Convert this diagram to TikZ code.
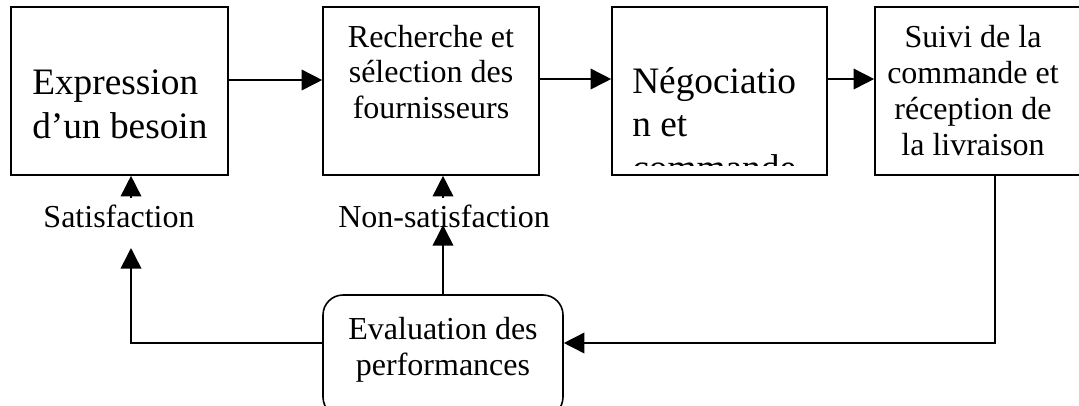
\documentclass[tikz,border=0pt]{standalone}
\usepackage{fontspec}
\setmainfont{Liberation Serif}
\usetikzlibrary{arrows.meta, positioning}

\begin{document}
\begin{tikzpicture}[
  x=0.75pt, y=-0.75pt,
  every node/.style={inner sep=0pt},
  box/.style={rectangle, draw, line width=1.2pt, minimum height=126pt},
  big/.style={font=\fontsize{28}{32.4}\selectfont, align=left, anchor=base west},
  small/.style={font=\fontsize{24}{26.6}\selectfont, align=center, anchor=base},
  lbl/.style={font=\fontsize{24}{27}\selectfont, inner sep=5pt, anchor=base},
  eval/.style={rectangle, draw, line width=1.2pt, rounded corners=15pt, minimum width=180pt, minimum height=91.5pt},
  arr/.style={-{Triangle[length=15.5pt, width=15.5pt]}, line width=1.2pt},
]
\useasboundingbox (0,0) rectangle (1079,405);

% Boxes
\node[box, minimum width=162.75pt] (need) at (119.5,91) {};
\node[box, minimum width=162pt] (search) at (431,91) {};
\node[box, minimum width=161.25pt] (nego) at (719.5,91) {};
\node[box, minimum width=156pt] (follow) at (979,91) {};
\node[eval] (evalbox) at (443,356) {};

% Texts (anchored on the last line)
\node[big] (needtxt) at (32,138) {Expression\\d’un besoin};
\node[small] (searchtxt) at (431,118) {Recherche et\\sélection des\\fournisseurs};
\begin{scope}
  \clip (612,7) rectangle (827,165);
  \node[big] (negotxt) at (632,180) {Négociatio\\n et\\commande};
\end{scope}
\node[small, font=\fontsize{24}{27}\selectfont] (followtxt) at (973,155) {Suivi de la\\commande et\\réception de\\la livraison};
\node[small, font=\fontsize{24}{26.3}\selectfont] (evaltxt) at (443,375) {Evaluation des\\performances};

% Labels
\node[lbl] (sat) at (119,227) {Satisfaction};
\node[lbl] (nonsat) at (444,227) {Non-satisfaction};
\coordinate (loop) at (995,343);

% Arrows - main flow
\draw[arr] ([yshift=8.25pt]need.east) -- ([yshift=8.25pt]search.west);
\draw[arr] ([yshift=9pt]search.east) -- ([yshift=9pt]nego.west);
\draw[arr] ([yshift=9pt]nego.east) -- ([yshift=9pt]follow.west);

% Feedback
\draw[arr] (loop |- follow.south) |- (evalbox.east |- loop);
\draw[arr] (evalbox.west |- loop) -| ([xshift=9pt, yshift=-15.75pt]sat.base);
\draw[arr] ([xshift=9pt]sat.north) -- ([xshift=9pt]sat.north |- need.south);
\draw[arr] (evalbox.north) -- ([yshift=1.5pt]evalbox.north |- nonsat.base);
\draw[arr] (evalbox.north |- nonsat.north) -- (evalbox.north |- search.south);
\end{tikzpicture}
\end{document}
